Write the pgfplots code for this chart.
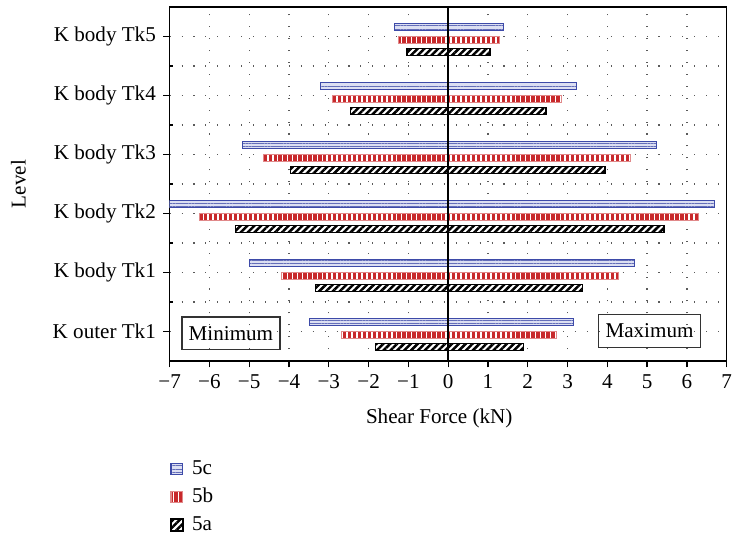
\documentclass[border=0pt]{standalone}
\usepackage{fontspec}
\setmainfont{Liberation Serif}
\usepackage{pgfplots}
\pgfplotsset{compat=1.18}
\usetikzlibrary{patterns.meta}
\definecolor{CBlue}{HTML}{3D4AA8}
\definecolor{CBlueL}{HTML}{B9BFE6}
\definecolor{CRed}{HTML}{C8292B}
\definecolor{CGrid}{HTML}{5A5A5A}

\begin{document}
\begin{tikzpicture}
\path (-80.4pt,-82.25pt) rectangle (266.9pt,171.1pt);
\begin{axis}[
  at={(0,0)}, anchor=south west,
  scale only axis, width=264.0pt, height=167.8pt,
  xbar, bar width=0.12,
  xmin=-7, xmax=7, ymin=-0.5, ymax=5.5,
  xtick={-7,...,7},
  xticklabels={−7,−6,−5,−4,−3,−2,−1,0,1,2,3,4,5,6,7},
  ytick={0,...,5},
  yticklabels={K outer Tk1,K body Tk1,K body Tk2,K body Tk3,K body Tk4,K body Tk5},
  extra y ticks={0.5,1.5,2.5,3.5,4.5},
  extra y tick labels={},
  extra y tick style={tick align=inside, major tick length=1.5pt, grid=major},
  xtick pos=bottom, ytick pos=left, tick align=outside,
  major tick length=3pt,
  tick style={black, line width=0.6pt},
  grid=major,
  major grid style={CGrid, line width=0.6pt, dash pattern=on 0.5pt off 5.15pt},
  axis line style={black, line width=0.6pt},
  xlabel={Shear Force (kN)}, ylabel={Level},
  xlabel style={at={(axis description cs:0.484,-0.1625)}, anchor=center},
  ylabel style={at={(axis description cs:-0.2715,0.5)}, anchor=center},
  legend style={draw=none, fill=none, at={(axis description cs:-0.011,-0.256)},
    anchor=north west, row sep=1.0pt, nodes={inner xsep=4pt}},
  legend cell align=left,
  myleg/.style={legend image code/.code={%
    \draw[##1] (0pt,-2.8pt) rectangle (5.6pt,2.8pt);}},
]
\addplot[myleg, bar shift=0.155, draw=CBlue, line width=0.5pt, fill=CBlueL!50!white,
  postaction={pattern={Lines[angle=0,distance=1.5pt,line width=0.45pt]}, pattern color=CBlue!80}]
  coordinates {(3.15,0) (-3.49,0) (4.68,1) (-4.99,1) (6.69,2) (-7.0,2)
               (5.24,3) (-5.17,3) (3.23,4) (-3.20,4) (1.40,5) (-1.36,5)};
\addlegendentry{5c}
\addplot[myleg, bar shift=-0.054, draw=CRed!55, line width=0.5pt, fill=CRed,
  postaction={pattern={Lines[angle=90,distance=2.35pt,line width=0.75pt]}, pattern color=white}]
  coordinates {(2.73,0) (-2.69,0) (4.27,1) (-4.19,1) (6.29,2) (-6.25,2)
               (4.59,3) (-4.63,3) (2.86,4) (-2.91,4) (1.28,5) (-1.24,5)};
\addlegendentry{5b}
\addplot[myleg, bar shift=-0.262, draw=black, line width=0.7pt, fill=white,
  postaction={pattern={Lines[angle=45,distance=2.3pt,line width=1.2pt]}, pattern color=black}]
  coordinates {(1.89,0) (-1.83,0) (3.38,1) (-3.34,1) (5.43,2) (-5.35,2)
               (3.94,3) (-3.96,3) (2.46,4) (-2.45,4) (1.05,5) (-1.03,5)};
\addlegendentry{5a}
\draw[black, line width=0.8pt] (axis cs:0,-0.5) -- (axis cs:0,5.5);
\node[draw=black!80, line width=0.6pt, inner xsep=3.2pt, minimum height=15.4pt]
  at (axis cs:-5.46,-0.03) {Minimum};
\node[draw=black!80, line width=0.6pt, inner xsep=3.2pt, minimum height=15.4pt]
  at (axis cs:5.06,0.01) {Maximum};
\end{axis}
\end{tikzpicture}
\end{document}
